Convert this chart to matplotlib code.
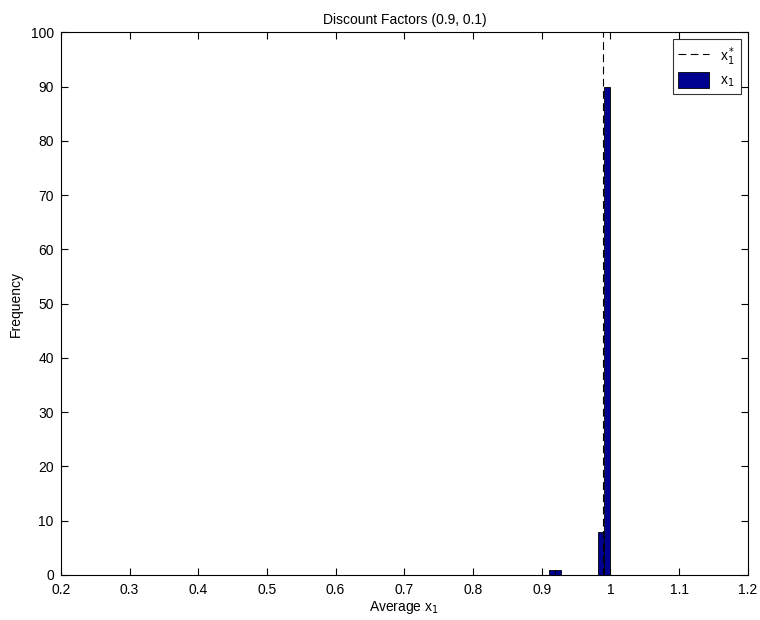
import numpy as np
import matplotlib
matplotlib.use('Agg')
from matplotlib import pyplot as plt

plt.rcParams['font.family'] = ['Liberation Sans', 'DejaVu Sans']

# histogram of average x1 (10 bins between min and max)
bin_lo = 0.910
bin_hi = 1.000
counts = [1, 1, 0, 0, 0, 0, 0, 0, 8, 90]
x_star = 0.989  # optimal x1*

edges = np.linspace(bin_lo, bin_hi, len(counts) + 1)
centers = (edges[:-1] + edges[1:]) / 2
width = edges[1] - edges[0]

fig = plt.figure(figsize=(7.6, 6.2), dpi=100)
ax = fig.add_axes([0.080, 0.0726, 0.904, 0.875])

ax.plot([x_star, x_star], [0, 100], linestyle=(0, (7, 4)), color='black', linewidth=0.8,
        label=r'x$_1^*$')
ax.bar(centers, counts, width=width, color='#00008F', edgecolor='black', linewidth=0.6,
       label=r'x$_1$')

ax.set_xlim(0.2, 1.2)
ax.set_ylim(0, 100)
ax.set_xticks(np.arange(0.2, 1.21, 0.1))
ax.set_xticklabels(['0.2', '0.3', '0.4', '0.5', '0.6', '0.7', '0.8', '0.9', '1', '1.1', '1.2'])
ax.set_yticks(np.arange(0, 101, 10))
ax.tick_params(direction='in', top=True, right=True, labelsize=10, length=5)
ax.tick_params(axis='x', pad=6)
ax.tick_params(axis='y', pad=5)
for s in ax.spines.values():
    s.set_linewidth(0.8)

ax.set_xlabel(r'Average x$_1$', fontsize=10, labelpad=1)
ax.set_ylabel('Frequency', fontsize=10, labelpad=6)
ax.set_title('Discount Factors (0.9, 0.1)', fontsize=10, pad=6)

leg = ax.legend(loc='upper right', fontsize=10, frameon=True, fancybox=False,
                edgecolor='black', borderaxespad=0.5, handlelength=2.2,
                handleheight=1.4, labelspacing=0.3, borderpad=0.4)
leg.get_frame().set_linewidth(0.8)

plt.savefig('out.png', dpi=100)
